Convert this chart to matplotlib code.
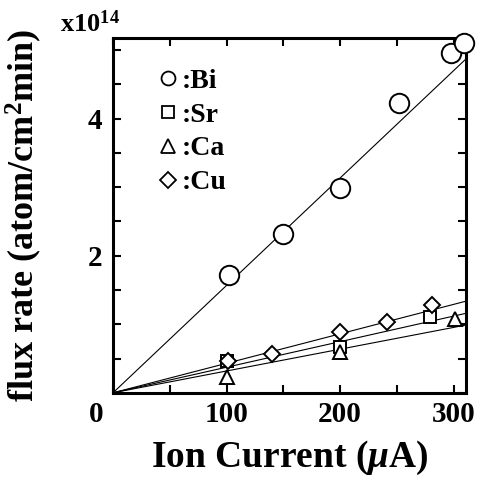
import matplotlib
matplotlib.use("Agg")
import matplotlib.pyplot as plt
import numpy as np
from matplotlib.lines import Line2D

# Data (flux rate in units of 1e14)
bi_x = [102, 150, 200, 252, 298, 309]
bi_y = [1.72, 2.32, 2.99, 4.23, 4.96, 5.11]
sr_x = [100, 200, 279]
sr_y = [0.47, 0.67, 1.11]
ca_x = [100, 200, 301]
ca_y = [0.23, 0.60, 1.07]
cu_x = [101, 140, 200, 241, 281]
cu_y = [0.47, 0.57, 0.89, 1.04, 1.28]

# slopes of the fitted lines through origin (1e14 per uA)
fit_slopes = [0.01567, 0.00373, 0.00318, 0.00430]

labels = [":Bi", ":Sr", ":Ca", ":Cu"]
markers = ["o", "s", "^", "D"]

plt.rcParams['font.family'] = ['Liberation Serif', 'DejaVu Serif']
plt.rcParams['font.weight'] = 'bold'
plt.rcParams['axes.labelweight'] = 'bold'
plt.rcParams['mathtext.fontset'] = 'custom'
plt.rcParams['mathtext.rm'] = 'Liberation Serif:bold'
plt.rcParams['mathtext.bf'] = 'Liberation Serif:bold'
plt.rcParams['mathtext.it'] = 'Liberation Serif:italic:bold'


def main():
	fig = plt.figure(figsize=(4.79, 4.79), dpi=100)
	ax = fig.add_axes([0.236, 0.180, 0.737, 0.741])

	# fitted lines
	xs = np.array([0, 311])
	for k in fit_slopes:
		ax.plot(xs, k * xs, color='k', lw=0.8)

	mk = dict(ls='none', mfc='white', mec='k', mew=1.4, clip_on=False, zorder=3)
	ax.plot(bi_x, bi_y, marker='o', ms=14, **mk)
	ax.plot(sr_x, sr_y, marker='s', ms=9, **mk)
	ax.plot(ca_x, ca_y, marker='^', ms=9.5, **mk)
	ax.plot(cu_x, cu_y, marker='D', ms=8, **mk)

	ax.set_xlim(0, 311)
	ax.set_ylim(0, 5.18)
	ax.set_xticks(np.arange(0, 301, 50))
	ax.set_xticklabels(['', '', '100', '', '200', '', '300'])
	ax.set_yticks(np.arange(0, 5.01, 0.5))
	ax.set_yticklabels(['', '', '', '', '2', '', '', '', '4', '', ''])
	ax.tick_params(direction='in', length=6, width=1.5, top=True, right=True,
				   labelsize=21, pad=6)
	ax.tick_params(axis='y', pad=8)
	for s in ax.spines.values():
		s.set_linewidth(2.2)

	ax.annotate('0', xy=(0, 0), xycoords='axes fraction', xytext=(-12, -6),
				textcoords='offset points', ha='center', va='top', fontsize=21)

	ax.set_xlabel(r'Ion Current ($\mu$A)', fontsize=27, labelpad=8)
	ax.set_ylabel(r'flux rate (atom/cm$^{\mathbf{2}}$min)', fontsize=26)
	ax.yaxis.set_label_coords(-0.195, 0.5)

	fig.text(0.125, 0.933, r'x10$^{\mathbf{14}}$', fontsize=19, ha='left', va='baseline')

	sizes = [10, 9, 9.5, 8]
	handles = [Line2D([], [], marker=m, ls='none', mfc='white', mec='k', mew=1.3, ms=s)
			   for m, s in zip(markers, sizes)]
	ax.legend(handles, labels, loc='upper left', bbox_to_anchor=(0.092, 0.945),
			  frameon=False, fontsize=20, handlelength=0.8, handletextpad=0.1,
			  labelspacing=0.3, borderaxespad=0)

	fig.savefig('out.png', dpi=100)


if __name__ == "__main__":
	main()
